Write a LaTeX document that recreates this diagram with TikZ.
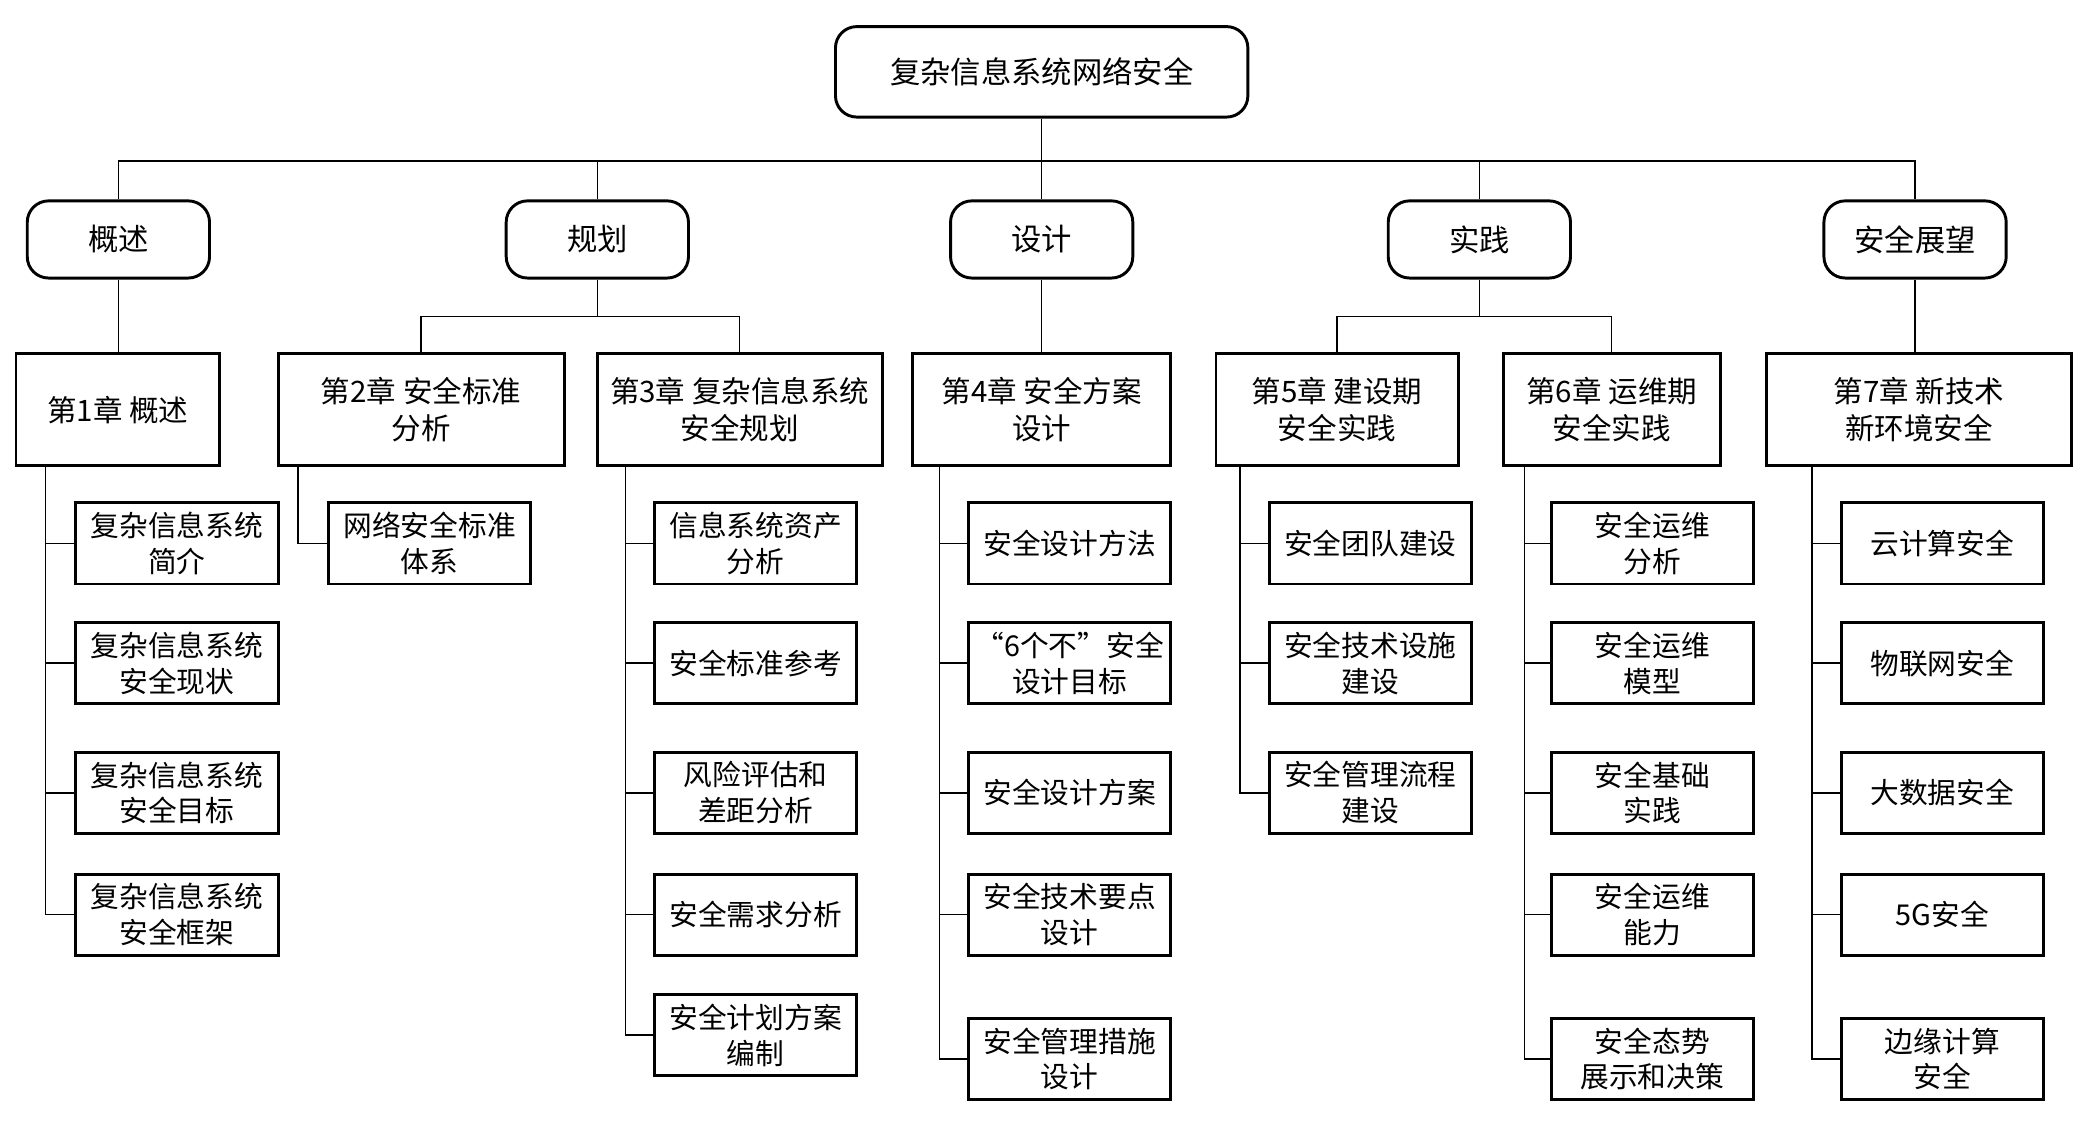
\documentclass[tikz,border=0pt]{standalone}
\usepackage{fontspec}
\setmainfont{Noto Sans CJK SC}
\begin{document}
\begin{tikzpicture}[x=0.5pt,y=-0.5pt,
  rbox/.style={draw,line width=1.1pt,rounded corners=8pt,align=center,inner sep=0pt,font=\fontsize{11.4}{14}\selectfont},
  chap/.style={draw,line width=1.1pt,align=center,inner sep=0pt,minimum height=42pt,font=\fontsize{11.1}{14}\selectfont},
  leaf/.style={draw,line width=1.1pt,align=center,inner sep=0pt,minimum width=76pt,minimum height=30.5pt,font=\fontsize{10.8}{13.5}\selectfont},
  conn/.style={line width=0.55pt}]
\useasboundingbox (0,0) rectangle (1568,844);
% root
\node[rbox,minimum width=155pt,minimum height=34pt] (root) at (783,54) {复杂信息系统网络安全};
% level 2
\node[rbox,minimum width=68.5pt,minimum height=29pt] (pa) at (89,180) {概述};
\node[rbox,minimum width=68.5pt,minimum height=29pt] (pb) at (449,180) {规划};
\node[rbox,minimum width=68.5pt,minimum height=29pt] (pc) at (783,180) {设计};
\node[rbox,minimum width=68.5pt,minimum height=29pt] (pd) at (1112,180) {实践};
\node[rbox,minimum width=68.5pt,minimum height=29pt] (pe) at (1439.5,180) {安全展望};
% chapters
\node[chap,minimum width=76.5pt] (c1) at (88.5,308) {第1章 概述};
\node[chap,minimum width=107.5pt] (c2) at (316.5,308) {第2章 安全标准\\分析};
\node[chap,minimum width=107pt] (c3) at (556,308) {第3章 复杂信息系统\\安全规划};
\node[chap,minimum width=97pt] (c4) at (783,308) {第4章 安全方案\\设计};
\node[chap,minimum width=91pt] (c5) at (1005,308) {第5章 建设期\\安全实践};
\node[chap,minimum width=81.5pt] (c6) at (1211.5,308) {第6章 运维期\\安全实践};
\node[chap,minimum width=114.5pt] (c7) at (1442.5,308) {第7章 新技术\\新环境安全};
% leaves col 1
\node[leaf] (a1) at (133,408.5) {复杂信息系统\\简介};
\node[leaf] (a2) at (133,498.5) {复杂信息系统\\安全现状};
\node[leaf] (a3) at (133,596) {复杂信息系统\\安全目标};
\node[leaf] (a4) at (133,687.5) {复杂信息系统\\安全框架};
% col 2
\node[leaf] (b1) at (323,408.5) {网络安全标准\\体系};
% col 3
\node[leaf] (d1) at (568,408.5) {信息系统资产\\分析};
\node[leaf] (d2) at (568,498.5) {安全标准参考};
\node[leaf] (d3) at (568,596) {风险评估和\\差距分析};
\node[leaf] (d4) at (568,687.5) {安全需求分析};
\node[leaf] (d5) at (568,778) {安全计划方案\\编制};
% col 4
\node[leaf] (e1) at (804,408.5) {安全设计方法};
\node[leaf] (e2) at (804,498.5) {“6个不”安全\\设计目标};
\node[leaf] (e3) at (804,596) {安全设计方案};
\node[leaf] (e4) at (804,687.5) {安全技术要点\\设计};
\node[leaf] (e5) at (804,796) {安全管理措施\\设计};
% col 5
\node[leaf] (f1) at (1030,408.5) {安全团队建设};
\node[leaf] (f2) at (1030,498.5) {安全技术设施\\建设};
\node[leaf] (f3) at (1030,596) {安全管理流程\\建设};
% col 6
\node[leaf] (g1) at (1242,408.5) {安全运维\\分析};
\node[leaf] (g2) at (1242,498.5) {安全运维\\模型};
\node[leaf] (g3) at (1242,596) {安全基础\\实践};
\node[leaf] (g4) at (1242,687.5) {安全运维\\能力};
\node[leaf] (g5) at (1242,796) {安全态势\\展示和决策};
% col 7
\node[leaf] (h1) at (1460,408.5) {云计算安全};
\node[leaf] (h2) at (1460,498.5) {物联网安全};
\node[leaf] (h3) at (1460,596) {大数据安全};
\node[leaf] (h4) at (1460,687.5) {5G安全};
\node[leaf] (h5) at (1460,796) {边缘计算\\安全};
% top bus
\coordinate (bus) at (783,121);
\draw[conn] (root.south) -- (pc.north);
\draw[conn] (pa.north) -- (pa.north |- bus) -- (pe.north |- bus) -- (pe.north);
\draw[conn] (pb.north) -- (pb.north |- bus);
\draw[conn] (pd.north) -- (pd.north |- bus);
% level2 -> chapters
\coordinate (sb) at (449,238);
\draw[conn] (pa.south) -- (pa.south |- c1.north);
\draw[conn] (pb.south) -- (pb.south |- sb);
\draw[conn] (c2.north) -- (c2.north |- sb) -- (c3.north |- sb) -- (c3.north);
\draw[conn] (pc.south) -- (c4.north);
\draw[conn] (pd.south) -- (pd.south |- sb);
\draw[conn] (c5.north) -- (c5.north |- sb) -- (c6.north |- sb) -- (c6.north);
\draw[conn] (pe.south) -- (pe.south |- c7.north);
% trunks
\coordinate (t1) at (34,350);
\coordinate (t2) at (224,350);
\coordinate (t3) at (470,350);
\coordinate (t4) at (706,350);
\coordinate (t5) at (932,350);
\coordinate (t6) at (1146,350);
\coordinate (t7) at (1362,350);
\draw[conn] (t1) |- (a4.west);
\foreach \n in {a1,a2,a3} \draw[conn] (t1 |- \n.west) -- (\n.west);
\draw[conn] (t2) |- (b1.west);
\draw[conn] (t3) |- (d5.west);
\foreach \n in {d1,d2,d3,d4} \draw[conn] (t3 |- \n.west) -- (\n.west);
\draw[conn] (t4) |- (e5.west);
\foreach \n in {e1,e2,e3,e4} \draw[conn] (t4 |- \n.west) -- (\n.west);
\draw[conn] (t5) |- (f3.west);
\foreach \n in {f1,f2} \draw[conn] (t5 |- \n.west) -- (\n.west);
\draw[conn] (t6) |- (g5.west);
\foreach \n in {g1,g2,g3,g4} \draw[conn] (t6 |- \n.west) -- (\n.west);
\draw[conn] (t7) |- (h5.west);
\foreach \n in {h1,h2,h3,h4} \draw[conn] (t7 |- \n.west) -- (\n.west);
\end{tikzpicture}
\end{document}
